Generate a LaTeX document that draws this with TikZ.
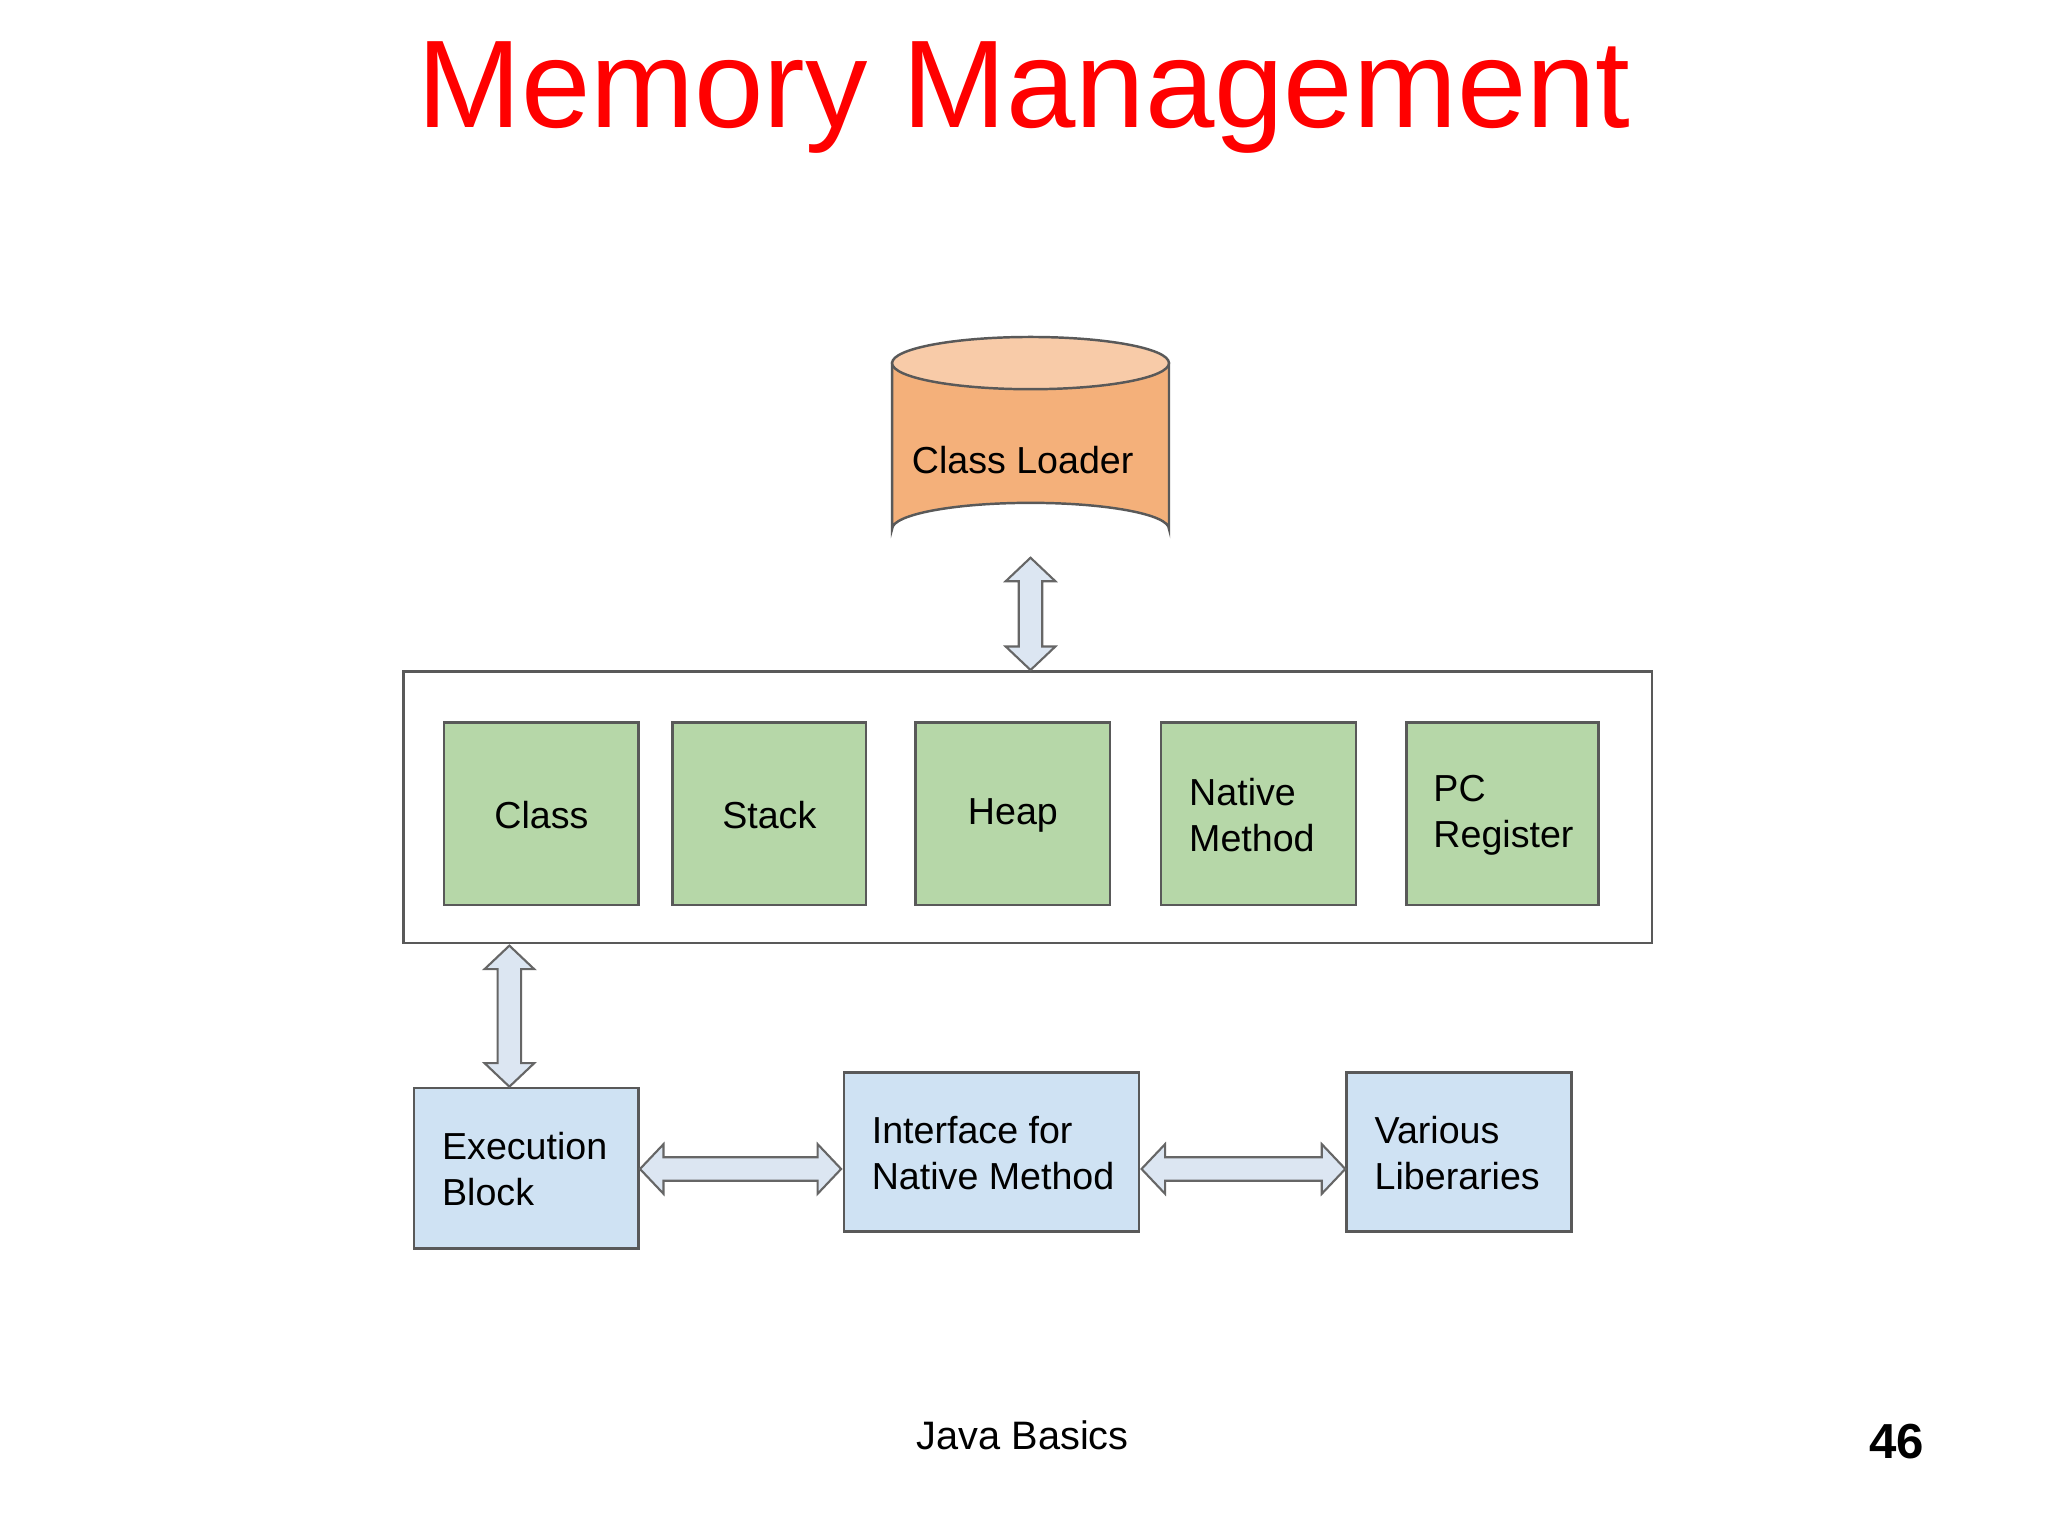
\documentclass[tikz,border=0pt]{standalone}
\usepackage{fontspec}
\setmainfont{Liberation Sans}
\definecolor{grn}{HTML}{B6D7A8}
\definecolor{blu}{HTML}{CFE2F3}
\definecolor{org}{HTML}{F4B07A}
\definecolor{orgt}{HTML}{F8CBA8}
\definecolor{arf}{HTML}{DCE6F2}
\newcommand\vdarrow[3]{\begin{scope}[shift={(#1,#2)}]
\draw[arr] (0,0)--(19,18)--(9,18)--(9,{#3-18})--(19,{#3-18})--(0,#3)--(-19,{#3-18})--(-9,{#3-18})--(-9,18)--(-19,18)--cycle;\end{scope}}
\newcommand\hdarrow[3]{\begin{scope}[shift={(#1,#2)}]
\draw[arr] (0,0)--(18,19)--(18,9)--({#3-18},9)--({#3-18},19)--(#3,0)--({#3-18},-19)--({#3-18},-9)--(18,-9)--(18,-19)--cycle;\end{scope}}
\begin{document}
\begin{tikzpicture}[x=0.01306cm,y=-0.01306cm,
 box/.style={draw=black!65,line width=0.7pt},
 lbl/.style={font=\fontsize{10.7pt}{13pt}\selectfont,align=left,anchor=west},
 clbl/.style={font=\fontsize{10.7pt}{13pt}\selectfont},
 arr/.style={draw=black!60,fill=arf,line width=0.6pt,line join=miter}]
\useasboundingbox[fill=white] (0,0) rectangle (1568,1176);
\node[text=red,font=\fontsize{35.5pt}{40pt}\selectfont] (title) at (784,75) {Memory Management};
% cylinder
\fill[org,draw=black!65,line width=0.7pt] (683,278) -- (683,405) arc[start angle=180,end angle=360,x radius=106,y radius=20] -- (895,278) -- cycle;
\draw[fill=orgt,draw=black!65,line width=0.7pt] (789,278) ellipse[x radius=106,y radius=20];
\node[clbl] (cl) at (783,352) {Class Loader};
% outer rect
\draw[box] (309,514) rectangle (1265,722);
\foreach \a/\b/\t/\n in {340/489/Class/c1,515/663/Stack/c2,701/850/Heap/c3}{
 \draw[box,fill=grn] (\a,553) rectangle (\b,693);
 \node[clbl] (\n) at ({(\a+\b)/2},624) {\t};}
\draw[box,fill=grn] (889,553) rectangle (1038,693);
\node[lbl] (c4) at (901,624) {Native\\Method};
\draw[box,fill=grn] (1077,553) rectangle (1224,693);
\node[lbl] (c5) at (1088,624) {PC\\Register};
% blue
\draw[box,fill=blu] (317,833) rectangle (489,956);
\node[lbl] (eb) at (329,895) {Execution\\Block};
\draw[box,fill=blu] (646,821) rectangle (872,943);
\node[lbl] (inm) at (658,883) {Interface for\\Native Method};
\draw[box,fill=blu] (1031,821) rectangle (1203,943);
\node[lbl] (vl) at (1043,883) {Various\\Liberaries};
% arrows
\vdarrow{789}{427}{86}
\vdarrow{390}{724}{108}
\hdarrow{490}{895}{154}
\hdarrow{874}{895}{156}
\node[font=\fontsize{11.3pt}{13pt}\selectfont] (ft) at (783,1099) {Java Basics};
\node[font=\bfseries\fontsize{14pt}{16pt}\selectfont] (pg) at (1452,1104) {46};
\end{tikzpicture}
\end{document}
